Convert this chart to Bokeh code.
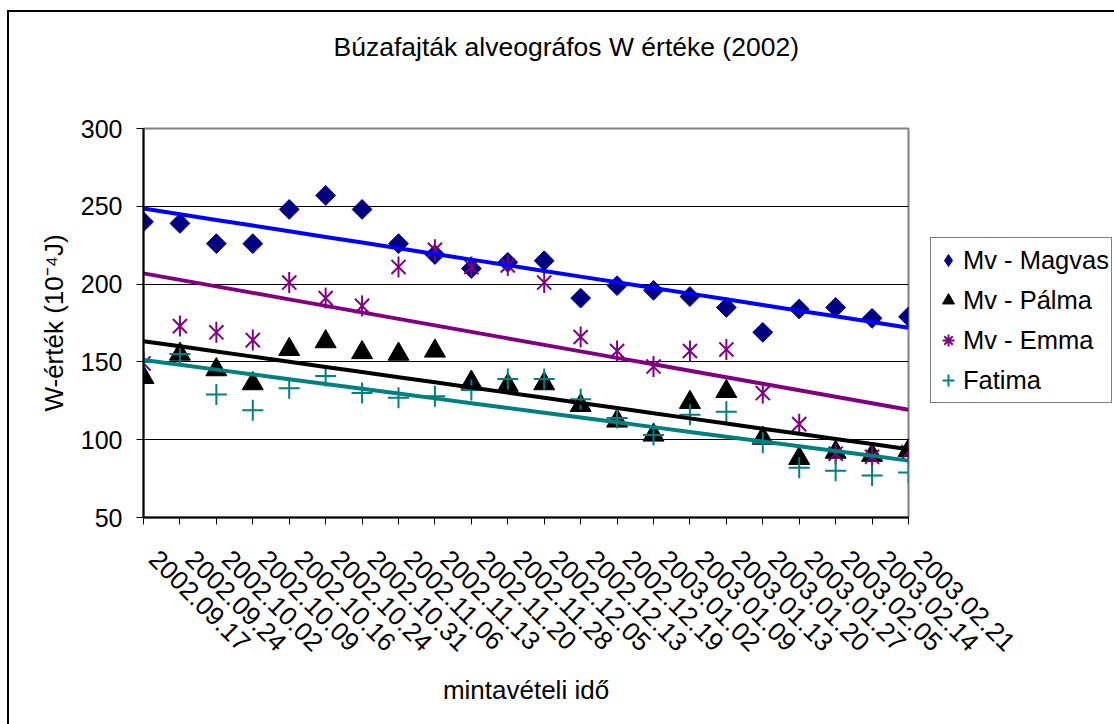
import numpy as np
from math import pi
from bokeh.plotting import figure
from bokeh.models import Range1d, FixedTicker, Legend, LegendItem, Title
from bokeh.embed import file_html
from bokeh.resources import INLINE

# ---------------- data ----------------
dates = ["2002.09.17", "2002.09.24", "2002.10.02", "2002.10.09", "2002.10.16",
         "2002.10.24", "2002.10.31", "2002.11.06", "2002.11.13", "2002.11.20",
         "2002.11.28", "2002.12.05", "2002.12.13", "2002.12.19", "2003.01.02",
         "2003.01.09", "2003.01.13", "2003.01.20", "2003.01.27", "2003.02.05",
         "2003.02.14", "2003.02.21"]
magvas = [240, 239, 226, 226, 248, 257, 248, 226, 219, 210, 214, 215,
          191, 199, 196, 192, 185, 169, 184, 185, 178, 179]
palma = [140, 155, 145, 136, 158, 163, 156, 155, 157, 137, 135, 136,
         122, 112, 103, 124, 131, 101, 88, 92, 90, 93]
emma = [149, 173, 169, 164, 201, 191, 186, 211, 222, 211, 212, 201,
        166, 157, 147, 157, 158, 130, 110, 91, 89, 92]
fatima = [150, 155, 129, 119, 133, 141, 130, 127, 128, 132, 139, 139,
          126, 114, 103, 116, 118, 98, 82, 80, 77, 79]
names = ["Mv - Magvas", "Mv - Pálma", "Mv - Emma", "Fatima"]
y_ticks = [50, 100, 150, 200, 250, 300]

title_text = "Búzafajták alveográfos W értéke (2002)"
x_label = "mintavételi idő"
y_label = "W-érték (10⁻⁴J)"

FONT = "Liberation Sans"

x = np.arange(len(dates))

p = figure(frame_width=765, frame_height=389, output_backend="svg",
           toolbar_location=None, title=None,
           x_range=Range1d(0, len(dates) - 1), y_range=Range1d(50, 300),
           min_border_left=134, min_border_right=206, min_border_top=116,
           min_border_bottom=207)
p.styles = {"border-left": "2px solid black", "border-top": "2px solid black",
            "margin-left": "7px", "margin-top": "10px"}

p.background_fill_color = "white"
p.border_fill_color = "white"
p.outline_line_color = "#808080"
p.outline_line_width = 2

# title (spacer nearest the frame, then the real title)
spacer = Title(text=" ", text_font_size="1px", standoff=64)
p.add_layout(spacer, "above")
main_title = Title(text=title_text, text_font=FONT, text_font_size="26.5px",
                   text_font_style="normal", text_color="black",
                   align="left", offset=190, standoff=0)
p.add_layout(main_title, "above")

# axes
p.xaxis.ticker = FixedTicker(ticks=list(range(len(dates))))
p.xaxis.major_label_overrides = {i: "\u00a0\u00a0" + d for i, d in enumerate(dates)}
p.xaxis.major_label_orientation = -pi / 4
p.xaxis.major_label_standoff = 20
p.xaxis.axis_label = x_label
p.xaxis.axis_label_standoff = 4
p.xaxis.major_label_text_font_size = "26px"

p.yaxis.ticker = FixedTicker(ticks=y_ticks)
p.yaxis.major_label_standoff = 14
p.yaxis.axis_label = y_label
p.yaxis.axis_label_standoff = 9
p.yaxis.major_label_text_font_size = "25px"

for ax in (p.xaxis[0], p.yaxis[0]):
    ax.axis_line_color = "black"
    ax.axis_line_width = 2
    ax.major_tick_line_color = "black"
    ax.major_tick_line_width = 1
    ax.major_tick_out = 7
    ax.major_tick_in = 0
    ax.minor_tick_line_color = None
    ax.major_label_text_font = FONT
    ax.major_label_text_color = "black"
    ax.axis_label_text_font = FONT
    ax.axis_label_text_font_size = "26px"
    ax.axis_label_text_font_style = "normal"
    ax.axis_label_text_color = "black"

p.xgrid.visible = False
p.ygrid.grid_line_color = "black"
p.ygrid.grid_line_width = 1

# markers
NAVY, PURPLE, TEAL = "#000080", "#800080", "#008080"
r1 = p.scatter(x, magvas, marker="square", angle=pi / 4, size=14,
               fill_color=NAVY, line_color=NAVY)
r2 = p.scatter(x, palma, marker="triangle", size=21,
               fill_color="black", line_color="black")
r3a = p.scatter(x, emma, marker="x", size=20, line_color=PURPLE, line_width=2)
r3b = p.scatter(x, emma, marker="dash", angle=pi / 2, size=21,
                line_color=PURPLE, line_width=2)
r4 = p.scatter(x, fatima, marker="cross", size=21, line_color=TEAL, line_width=2)

# linear trend lines computed from the data
for vals, col in ((magvas, "#0000FF"), (palma, "black"),
                  (emma, PURPLE), (fatima, TEAL)):
    k, b = np.polyfit(x, vals, 1)
    p.line(x, k * x + b, line_color=col, line_width=4)

# legend-only glyphs (no visible data points)
lg1 = p.scatter([0], [np.nan], marker="diamond", size=16,
                fill_color=NAVY, line_color=NAVY)
lg3 = p.scatter([0], [np.nan], marker="asterisk", size=16,
                line_color=PURPLE, line_width=2)

legend = Legend(items=[LegendItem(label=names[0], renderers=[lg1]),
                       LegendItem(label=names[1], renderers=[r2]),
                       LegendItem(label=names[2], renderers=[lg3]),
                       LegendItem(label=names[3], renderers=[r4])],
                location=(22, 114),
                label_text_font=FONT, label_text_font_size="25.5px",
                label_text_color="black",
                border_line_color="black", border_line_width=1,
                padding=2, spacing=0, margin=0,
                glyph_width=30, glyph_height=40, label_height=40,
                label_standoff=0, background_fill_alpha=1)
p.add_layout(legend, "right")

open("out.html", "w").write(file_html(p, INLINE))
